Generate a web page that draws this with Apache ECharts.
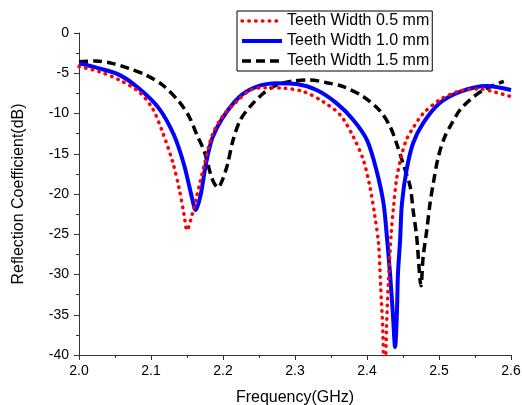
<!DOCTYPE html>
<html>
<head>
<meta charset="utf-8">
<script src="https://cdn.jsdelivr.net/npm/echarts@6/dist/echarts.min.js"></script>
<style>html,body{margin:0;padding:0;background:#fff}#c{width:522px;height:405px}</style>
</head>
<body>
<div id="c"></div>
<script>
var seriesNames = ['Teeth Width 0.5 mm', 'Teeth Width 1.0 mm', 'Teeth Width 1.5 mm'];
var xTicks = [2.0, 2.1, 2.2, 2.3, 2.4, 2.5, 2.6];

var freq05 = [2.0, 2.028, 2.056, 2.083, 2.102, 2.116, 2.13, 2.139, 2.146, 2.150, 2.157, 2.164, 2.174, 2.185, 2.199, 2.218, 2.2375, 2.256, 2.284, 2.312, 2.339, 2.363, 2.381, 2.395, 2.404, 2.411, 2.416, 2.419, 2.422, 2.4245, 2.427, 2.4296, 2.4335, 2.437, 2.441, 2.448, 2.455, 2.464, 2.478, 2.501, 2.529, 2.557, 2.58, 2.6];
var s11_05 = [-4.18, -4.8, -5.84, -7.29, -9.36, -12.3, -16.0, -19.3, -22.6, -24.5, -22.6, -20.1, -16.4, -12.7, -10.4, -8.6, -7.1, -6.8, -6.85, -7.29, -8.53, -10.2, -12.9, -15.8, -19.1, -22.8, -26.1, -31.5, -37, -46, -37, -31.1, -25, -21.5, -18.2, -15.2, -13.2, -11.8, -10.0, -8.3, -7.2, -6.95, -7.4, -7.9];

var freq10 = [2.0, 2.028, 2.056, 2.083, 2.111, 2.132, 2.146, 2.157, 2.162, 2.169, 2.176, 2.185, 2.199, 2.222, 2.247, 2.275, 2.302, 2.33, 2.358, 2.381, 2.40, 2.413, 2.423, 2.428, 2.432, 2.436, 2.439, 2.4415, 2.443, 2.446, 2.4485, 2.455, 2.464, 2.478, 2.501, 2.529, 2.566, 2.6];
var s11_10 = [-3.76, -4.39, -5.2, -6.87, -9.36, -12.7, -16.4, -20.5, -22.0, -20.1, -16.4, -13.1, -10.6, -8.0, -6.67, -6.25, -6.34, -7.08, -8.74, -10.8, -13.3, -17.0, -21.2, -25.7, -29.9, -35, -39.0, -35, -29.9, -25.7, -21.2, -17.0, -13.7, -11.2, -8.7, -7.3, -6.58, -7.08];

var freq15 = [2.0, 2.023, 2.046, 2.069, 2.093, 2.116, 2.139, 2.153, 2.164, 2.174, 2.183, 2.188, 2.193, 2.199, 2.206, 2.214, 2.224, 2.2375, 2.256, 2.275, 2.298, 2.321, 2.344, 2.367, 2.395, 2.418, 2.432, 2.441, 2.45, 2.46, 2.464, 2.469, 2.475, 2.478, 2.483, 2.4875, 2.492, 2.499, 2.508, 2.518, 2.529, 2.543, 2.5615, 2.585, 2.59];
var s11_15 = [-3.56, -3.48, -3.77, -4.39, -5.22, -6.46, -8.53, -10.4, -12.7, -14.7, -17.6, -18.7, -19.2, -18.3, -16.4, -13.3, -10.8, -9.15, -7.5, -6.46, -5.96, -5.84, -6.17, -6.67, -7.91, -9.67, -11.6, -13.7, -16.2, -19.1, -22.0, -25.3, -31.4, -27.8, -24.5, -21.2, -18.7, -15.4, -12.9, -11.2, -9.57, -8.3, -7.08, -6.17, -6.0];

function pairs(xs, ys) { return xs.map(function (x, i) { return [x, ys[i]]; }); }

var FONT = 'Arial, "Liberation Sans", sans-serif';
var chart = echarts.init(document.getElementById('c'), null, {renderer: 'canvas'});
chart.setOption({
  animation: false,
  backgroundColor: '#fff',
  textStyle: {fontFamily: FONT},
  grid: {left: 79, top: 33, right: 11, bottom: 50, containLabel: false, outerBoundsMode: 'none'},
  legend: {
    orient: 'vertical', left: 237, top: 11,
    data: [
      {name: seriesNames[0], lineStyle: {width: 3.5}},
      {name: seriesNames[1], lineStyle: {width: 4}},
      {name: seriesNames[2], lineStyle: {width: 3.5}}
    ],
    itemWidth: 40, itemHeight: 14, itemGap: 4,
    padding: [2, 3, 2, 3],
    borderColor: '#000', borderWidth: 1, backgroundColor: '#fff',
    itemStyle: {opacity: 0, color: 'transparent', borderWidth: 0},
    textStyle: {fontFamily: FONT, fontSize: 16, color: '#000'}
  },
  xAxis: {
    type: 'value', min: 2.0, max: 2.6, interval: 0.1,
    name: 'Frequency(GHz)', nameLocation: 'middle', nameGap: 35,
    nameTextStyle: {fontFamily: FONT, fontSize: 16, color: '#000'},
    axisLine: {show: true, onZero: false, lineStyle: {color: '#333', width: 1}},
    axisTick: {show: true, inside: false, length: 5, lineStyle: {color: '#333'}},
    minorTick: {show: true, splitNumber: 2, length: 3, lineStyle: {color: '#333'}},
    splitLine: {show: false},
    axisLabel: {fontFamily: FONT, fontSize: 14, color: '#000', margin: 9,
      formatter: function (v) { return v.toFixed(1); }}
  },
  yAxis: {
    type: 'value', min: -40, max: 0, interval: 5,
    name: 'Reflection Coefficient(dB)', nameLocation: 'middle', nameGap: 52,
    nameTextStyle: {fontFamily: FONT, fontSize: 16, color: '#000'},
    axisLine: {show: true, onZero: false, lineStyle: {color: '#333', width: 1}},
    axisTick: {show: true, inside: false, length: 5, lineStyle: {color: '#333'}},
    minorTick: {show: true, splitNumber: 2, length: 3, lineStyle: {color: '#333'}},
    splitLine: {show: false},
    axisLabel: {fontFamily: FONT, fontSize: 14, color: '#000', margin: 10}
  },
  series: [
    {name: seriesNames[0], type: 'line', data: pairs(freq05, s11_05), symbol: 'none', smooth: 0.3, clip: true,
     color: '#ff0000', lineStyle: {color: '#ff0000', width: 3.5, type: [0.5, 6.3], cap: 'round'}, z: 3},
    {name: seriesNames[1], type: 'line', data: pairs(freq10, s11_10), symbol: 'none', smooth: 0.3, clip: true,
     color: '#0000ff', lineStyle: {color: '#0000ff', width: 4}, z: 2},
    {name: seriesNames[2], type: 'line', data: pairs(freq15, s11_15), symbol: 'none', smooth: 0.3, clip: true,
     color: '#000000', lineStyle: {color: '#000000', width: 3.5, type: [9, 5]}, z: 1}
  ]
});
</script>
</body>
</html>
